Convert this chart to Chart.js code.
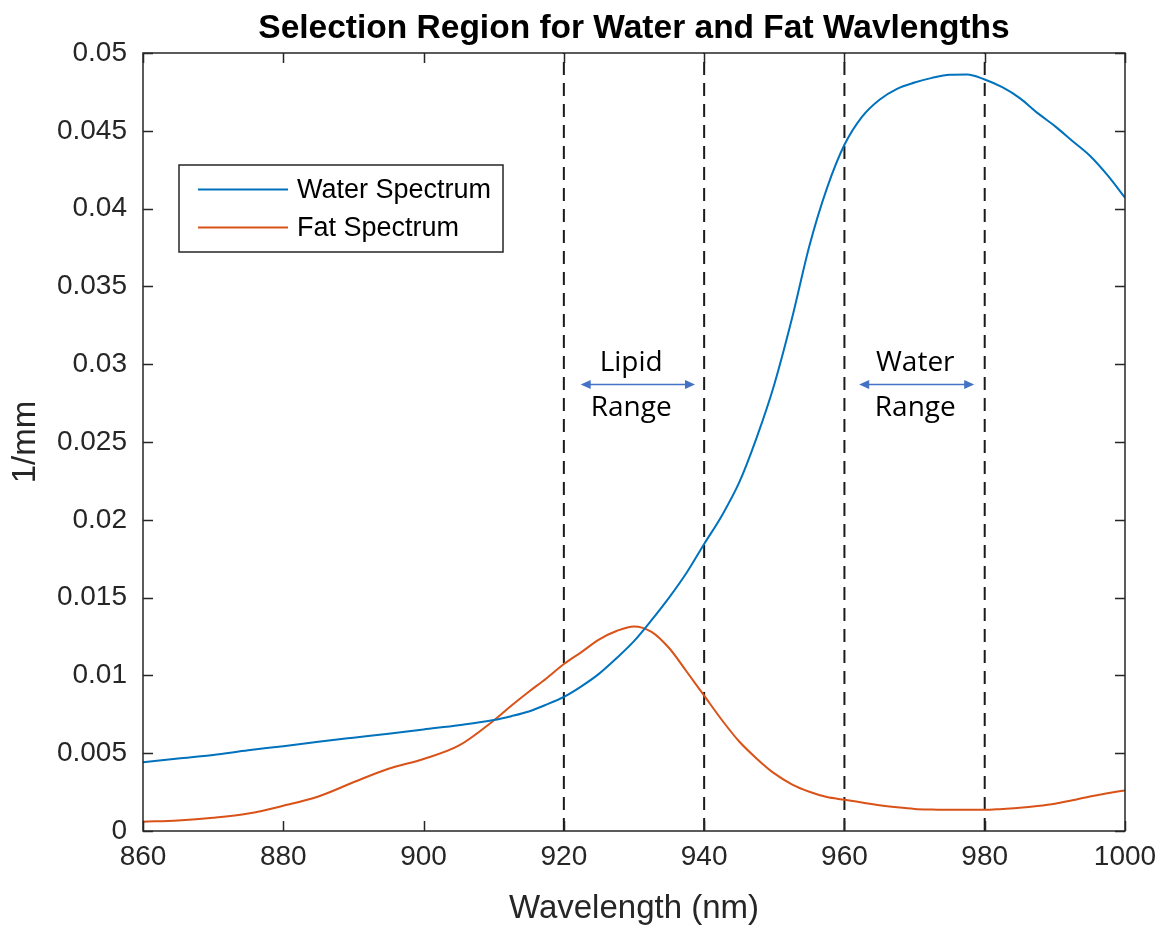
<!DOCTYPE html>
<html>
<head>
<meta charset="utf-8">
<script src="https://cdn.jsdelivr.net/npm/chart.js@4.4.0/dist/chart.umd.min.js"></script>
<style>
  html, body { margin: 0; padding: 0; background: #ffffff; }
  #wrap { width: 1170px; height: 928px; position: relative; }
</style>
</head>
<body>
<div id="wrap"><canvas id="chart" width="1170" height="928"></canvas></div>
<script>
// ---- Data ----
const wavelengths = [860, 865, 870, 875, 880, 885, 890, 895, 900, 905, 910, 912.5, 915, 917.5, 920, 922.5, 925, 927.5, 930, 932.5, 935, 937.5, 940, 942.5, 945, 947.5, 950, 952.5, 955, 957.5, 960, 962.5, 965, 967.5, 970, 972.5, 975, 977.5, 980, 982.5, 985, 987.5, 990, 992.5, 995, 997.5, 1000];
const waterSpectrum = [0.00442, 0.00466, 0.00489, 0.00519, 0.00545, 0.00574, 0.00600, 0.00625, 0.00653, 0.00680, 0.00713, 0.00738, 0.00768, 0.00812, 0.00862, 0.00930, 0.01010, 0.01110, 0.01220, 0.01355, 0.01500, 0.01660, 0.01845, 0.02025, 0.02240, 0.02530, 0.02870, 0.03290, 0.03760, 0.04130, 0.04410, 0.04590, 0.04700, 0.04770, 0.04810, 0.04840, 0.04860, 0.04862, 0.04830, 0.04780, 0.04710, 0.04615, 0.04530, 0.04435, 0.04340, 0.04215, 0.04070];
const fatSpectrum = [0.00060, 0.00068, 0.00085, 0.00112, 0.00162, 0.00222, 0.00313, 0.00400, 0.00463, 0.00548, 0.00710, 0.00805, 0.00895, 0.00980, 0.01073, 0.01150, 0.01230, 0.01285, 0.01315, 0.01280, 0.01176, 0.01025, 0.00870, 0.00715, 0.00575, 0.00465, 0.00370, 0.00300, 0.00252, 0.00218, 0.00201, 0.00183, 0.00165, 0.00152, 0.00142, 0.00138, 0.00136, 0.00136, 0.00136, 0.00142, 0.00149, 0.00160, 0.00175, 0.00198, 0.00222, 0.00242, 0.00261];
const xTickValues = [860, 880, 900, 920, 940, 960, 980, 1000];
const yTickValues = [0, 0.005, 0.01, 0.015, 0.02, 0.025, 0.03, 0.035, 0.04, 0.045, 0.05];
const selectionLines = [920, 940, 960, 980];
const rangeArrowStart = [922.4, 962.1];
const rangeArrowEnd = [938.7, 978.5];
const rangeArrowLevel = [0.0287, 0.0287];
const rangeLabelTop = ['Lipid', 'Water'];
const rangeLabelBottom = ['Range', 'Range'];
const rangeLabelX = [929.6, 970.1];
const rangeLabelTopLevel = [0.0301, 0.0301];
const rangeLabelBottomLevel = [0.0272, 0.0272];
const seriesNames = ['Water Spectrum', 'Fat Spectrum'];
const seriesColors = ['#0072BD', '#D95319'];

// ---- Build datasets ----
const toPoints = (ys) => wavelengths.map((x, i) => ({ x: x, y: ys[i] }));
const datasets = [
  { label: seriesNames[0], data: toPoints(waterSpectrum), borderColor: seriesColors[0], borderWidth: 2, pointRadius: 0, cubicInterpolationMode: 'monotone', fill: false },
  { label: seriesNames[1], data: toPoints(fatSpectrum), borderColor: seriesColors[1], borderWidth: 2, pointRadius: 0, cubicInterpolationMode: 'monotone', fill: false }
];
selectionLines.forEach((v) => {
  datasets.push({ label: 'sel' + v, data: [{ x: v, y: yTickValues[0] }, { x: v, y: yTickValues[yTickValues.length - 1] }], borderColor: '#1a1a1a', borderWidth: 2, borderDash: [13, 8], pointRadius: 0, fill: false });
});

const AXIS = '#262626';
const FONT = "'Liberation Sans', Arial, Helvetica, sans-serif";

const framePlugin = {
  id: 'frame',
  afterDatasetsDraw(chart) {
    const { ctx, chartArea: a, scales } = chart;
    const xs = scales.x, ys = scales.y;
    ctx.save();
    // annotations (range arrows + labels)
    ctx.strokeStyle = '#4472C4';
    ctx.fillStyle = '#4472C4';
    ctx.lineWidth = 1.5;
    for (let i = 0; i < rangeArrowStart.length; i++) {
      const x1 = xs.getPixelForValue(rangeArrowStart[i]);
      const x2 = xs.getPixelForValue(rangeArrowEnd[i]);
      const y = ys.getPixelForValue(rangeArrowLevel[i]);
      const h = 10, w = 4.5;
      ctx.beginPath(); ctx.moveTo(x1 + h - 1, y); ctx.lineTo(x2 - h + 1, y); ctx.stroke();
      ctx.beginPath(); ctx.moveTo(x1, y); ctx.lineTo(x1 + h, y - w); ctx.lineTo(x1 + h, y + w); ctx.closePath(); ctx.fill();
      ctx.beginPath(); ctx.moveTo(x2, y); ctx.lineTo(x2 - h, y - w); ctx.lineTo(x2 - h, y + w); ctx.closePath(); ctx.fill();
    }
    ctx.fillStyle = '#000000';
    ctx.font = "28px 'Open Sans', 'Noto Sans', sans-serif";
    ctx.textAlign = 'center';
    ctx.textBaseline = 'middle';
    for (let i = 0; i < rangeLabelX.length; i++) {
      const x = xs.getPixelForValue(rangeLabelX[i]);
      ctx.fillText(rangeLabelTop[i], x, ys.getPixelForValue(rangeLabelTopLevel[i]));
      ctx.fillText(rangeLabelBottom[i], x, ys.getPixelForValue(rangeLabelBottomLevel[i]));
    }
    // box
    ctx.strokeStyle = AXIS;
    ctx.lineWidth = 1.5;
    ctx.strokeRect(a.left, a.top, a.right - a.left, a.bottom - a.top);
    // inner ticks
    const tl = 10;
    ctx.beginPath();
    xTickValues.forEach((v) => {
      const px = Math.round(xs.getPixelForValue(v)) + 0.5;
      ctx.moveTo(px, a.bottom); ctx.lineTo(px, a.bottom - tl);
      ctx.moveTo(px, a.top); ctx.lineTo(px, a.top + tl);
    });
    yTickValues.forEach((v) => {
      const py = Math.round(ys.getPixelForValue(v)) + 0.5;
      ctx.moveTo(a.left, py); ctx.lineTo(a.left + tl, py);
      ctx.moveTo(a.right, py); ctx.lineTo(a.right - tl, py);
    });
    ctx.stroke();
    // legend
    const lx = 179, ly = 165, lw = 324, lh = 87;
    ctx.fillStyle = '#ffffff';
    ctx.fillRect(lx, ly, lw, lh);
    ctx.strokeStyle = AXIS;
    ctx.lineWidth = 1.5;
    ctx.strokeRect(lx, ly, lw, lh);
    ctx.font = '27px ' + FONT;
    ctx.textAlign = 'left';
    ctx.textBaseline = 'middle';
    const rows = [189.5, 227.5];
    for (let i = 0; i < seriesNames.length; i++) {
      ctx.strokeStyle = seriesColors[i];
      ctx.lineWidth = 2;
      ctx.beginPath(); ctx.moveTo(198, rows[i]); ctx.lineTo(288, rows[i]); ctx.stroke();
      ctx.fillStyle = '#000000';
      ctx.fillText(seriesNames[i], 297, rows[i] + 1);
    }
    ctx.restore();
  }
};

new Chart(document.getElementById('chart'), {
  type: 'line',
  data: { datasets: datasets },
  options: {
    responsive: false,
    animation: false,
    events: [],
    layout: { padding: { top: 0, right: 45, bottom: 0, left: 0 } },
    plugins: {
      legend: { display: false },
      tooltip: { enabled: false },
      title: {
        display: true,
        fullSize: false,
        text: 'Selection Region for Water and Fat Wavlengths',
        color: '#000000',
        font: { family: FONT, size: 33.5, weight: 'bold', lineHeight: 1.2 },
        padding: { top: 9, bottom: 3.8 }
      }
    },
    scales: {
      x: {
        type: 'linear',
        min: xTickValues[0],
        max: xTickValues[xTickValues.length - 1],
        afterBuildTicks: (s) => { s.ticks = xTickValues.map((v) => ({ value: v })); },
        afterFit: (s) => { s.height = 97; },
        grid: { display: false, drawTicks: false },
        border: { display: false },
        ticks: { color: AXIS, font: { family: FONT, size: 28 }, padding: 9, maxRotation: 0, autoSkip: false, callback: (v) => String(v) },
        title: { display: true, text: 'Wavelength (nm)', color: AXIS, font: { family: FONT, size: 33 }, padding: { top: 0, bottom: -1 } }
      },
      y: {
        type: 'linear',
        min: yTickValues[0],
        max: yTickValues[yTickValues.length - 1],
        afterBuildTicks: (s) => { s.ticks = yTickValues.map((v) => ({ value: v })); },
        afterFit: (s) => { s.width = 143; },
        grid: { display: false, drawTicks: false },
        border: { display: false },
        ticks: { color: AXIS, font: { family: FONT, size: 28 }, padding: 16, autoSkip: false, callback: (v) => String(parseFloat(Number(v).toFixed(4))) },
        title: { display: true, text: '1/mm', color: AXIS, font: { family: FONT, size: 33 }, padding: { top: 6, bottom: 0 } }
      }
    }
  },
  plugins: [framePlugin]
});
</script>
</body>
</html>
